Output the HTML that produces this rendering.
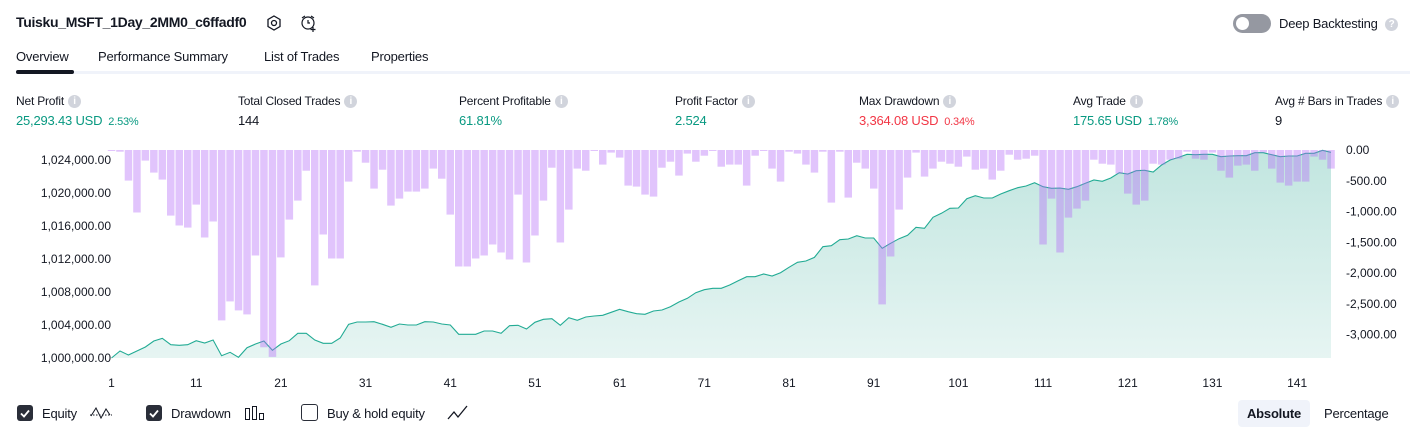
<!DOCTYPE html>
<html><head><meta charset="utf-8">
<style>
body{margin:0;width:1424px;height:438px;background:#fff;font-family:"Liberation Sans",sans-serif;color:#131722;overflow:hidden;position:relative}
.a{position:absolute;white-space:nowrap}
.t{font-size:13px;letter-spacing:-0.2px}
.lab{font-size:12px;letter-spacing:-0.2px;color:#131722}
.info{display:inline-block;width:13px;height:13px;border-radius:50%;background:#d1d4dc;color:#fff;font-size:10px;font-weight:bold;text-align:center;line-height:13px;vertical-align:1px;margin-left:4px}
.g{color:#089981}.r{color:#f23645}
.sm{font-size:11px;margin-left:6px}
.cb{position:absolute;width:16px;height:16px;border-radius:3px;background:#2a2e39;top:405px}
</style></head><body>
<div class="a" style="left:16px;top:14px;font-size:14px;font-weight:bold;letter-spacing:-0.3px">Tuisku_MSFT_1Day_2MM0_c6ffadf0</div>
<svg class="a" style="left:265px;top:14px" width="18" height="18"><polygon points="9,2 15,5.5 15,12.5 9,16 3,12.5 3,5.5" fill="none" stroke="#131722" stroke-width="1.3"/><circle cx="9" cy="9" r="2.5" fill="none" stroke="#131722" stroke-width="1.3"/></svg>
<svg class="a" style="left:299px;top:13px" width="20" height="20"><circle cx="9" cy="10" r="6" fill="none" stroke="#131722" stroke-width="1.2"/><path d="M9 7v3h2M3 5l3-2M15 5l-3-2M14 14v5M11.5 16.5h5" stroke="#131722" stroke-width="1.2" fill="none"/></svg>
<div class="a" style="left:1233px;top:14px;width:38px;height:19px;border-radius:10px;background:#9598a1"><div style="position:absolute;left:3px;top:3px;width:13px;height:13px;border-radius:50%;background:#fff"></div></div>
<div class="a t" style="left:1279px;top:16px">Deep Backtesting <span class="info" style="border-radius:50%">?</span></div>

<div class="a t" style="left:16px;top:49px">Overview</div>
<div class="a t" style="left:98px;top:49px">Performance Summary</div>
<div class="a t" style="left:264px;top:49px">List of Trades</div>
<div class="a t" style="left:371px;top:49px">Properties</div>
<div class="a" style="left:16px;top:71px;width:1394px;height:3px;background:#f0f3fa"></div>
<div class="a" style="left:16px;top:70px;width:58px;height:4px;border-radius:2px;background:#131722"></div>

<div class="a lab" style="left:16px;top:94px">Net Profit<span class="info">i</span></div>
<div class="a t g" style="left:16px;top:113px">25,293.43 USD<span class="sm">2.53%</span></div>
<div class="a lab" style="left:238px;top:94px">Total Closed Trades<span class="info">i</span></div>
<div class="a t" style="left:238px;top:113px">144</div>
<div class="a lab" style="left:459px;top:94px">Percent Profitable<span class="info">i</span></div>
<div class="a t g" style="left:459px;top:113px">61.81%</div>
<div class="a lab" style="left:675px;top:94px">Profit Factor<span class="info">i</span></div>
<div class="a t g" style="left:675px;top:113px">2.524</div>
<div class="a lab" style="left:859px;top:94px">Max Drawdown<span class="info">i</span></div>
<div class="a t r" style="left:859px;top:113px">3,364.08 USD<span class="sm">0.34%</span></div>
<div class="a lab" style="left:1073px;top:94px">Avg Trade<span class="info">i</span></div>
<div class="a t g" style="left:1073px;top:113px">175.65 USD<span class="sm">1.78%</span></div>
<div class="a lab" style="left:1275px;top:94px">Avg # Bars in Trades<span class="info">i</span></div>
<div class="a t" style="left:1275px;top:113px">9</div>

<svg class="a" id="chart" style="left:0;top:0" width="1424" height="395">
<defs><linearGradient id="ag" x1="0" y1="0" x2="0" y2="1"><stop offset="0" stop-color="#089981" stop-opacity="0.25"/><stop offset="1" stop-color="#089981" stop-opacity="0.1"/></linearGradient></defs>
</svg>

<div class="cb" style="left:17px"><svg width="16" height="16"><path d="M4 8.5l3 3 5-6" stroke="#fff" stroke-width="1.8" fill="none"/></svg></div>
<div class="a t" style="left:42px;top:406px">Equity</div>
<svg class="a" style="left:88px;top:404px" width="26" height="18"><path d="M2 11h22" stroke="#131722" stroke-dasharray="1.5 1.5"/><path d="M3 12l5-8 5 10 5-9 4 6" stroke="#131722" fill="none"/></svg>
<div class="cb" style="left:146px"><svg width="16" height="16"><path d="M4 8.5l3 3 5-6" stroke="#fff" stroke-width="1.8" fill="none"/></svg></div>
<div class="a t" style="left:171px;top:406px">Drawdown</div>
<svg class="a" style="left:244px;top:405px" width="22" height="16"><rect x="1.5" y="3.5" width="4" height="11" fill="none" stroke="#131722"/><rect x="8.5" y="1.5" width="4" height="13" fill="none" stroke="#131722"/><rect x="15.5" y="8.5" width="4" height="6" fill="none" stroke="#131722"/></svg>
<div class="cb" style="left:301px;background:#fff;border:1.3px solid #2a2e39;width:15px;height:15px;top:404px"></div>
<div class="a t" style="left:327px;top:406px">Buy &amp; hold equity</div>
<svg class="a" style="left:446px;top:404px" width="24" height="18"><path d="M2 15l6-7 4 5 9-11" stroke="#131722" fill="none" stroke-width="1.3"/></svg>
<div class="a t" style="left:1238px;top:400px;width:72px;height:27px;line-height:27px;text-align:center;background:#f0f3fa;border-radius:4px;font-weight:bold">Absolute</div>
<div class="a t" style="left:1324px;top:400px;height:27px;line-height:27px">Percentage</div>

<script>
const equityK=[0,0.85,0.36,0.85,1.33,2.06,2.39,1.61,1.54,1.61,2.10,1.82,2.18,0.28,0.69,0.08,1.25,1.70,2.06,0.93,1.70,2.10,2.99,2.99,2.18,1.78,1.78,2.42,4.08,4.36,4.36,4.40,4.08,3.72,4.12,4.00,4.00,4.40,4.36,4.12,4.00,2.87,2.87,2.87,3.27,3.27,2.99,3.91,3.96,
3.51,4.33,4.69,4.76,3.96,4.88,4.57,4.97,5.09,5.18,5.54,5.90,5.61,5.37,5.30,5.70,5.82,6.22,6.79,7.24,7.91,8.28,8.45,8.45,8.85,9.37,9.85,9.85,10.18,9.94,10.34,10.99,11.60,11.76,12.20,13.49,13.61,14.34,14.42,14.82,14.54,14.54,13.30,13.90,14.46,14.87,15.84,15.72,
17.05,17.54,18.14,18.18,19.31,19.67,19.39,19.39,19.88,20.28,20.64,20.85,21.25,20.76,20.57,20.60,20.45,20.76,21.17,21.57,21.42,21.82,22.46,22.30,22.70,22.75,22.54,23.39,24.00,24.32,24.69,24.64,24.69,24.69,24.40,24.48,24.52,24.52,24.88,24.88,24.64,24.40,24.48,24.48,24.81,24.81,25.17,24.93];
const drawdown=[10,27,498,1017,173,368,482,1066,1228,1261,888,1423,1163,2770,2462,2608,2673,1715,3208,3364,1747,1131,823,336,2202,1374,1764,1764,514,27,206,628,320,904,790,677,677,628,303,466,1050,1894,1894,1764,1715,1537,1667,1780,725,
1829,1391,823,287,1504,969,303,336,11,238,43,124,579,595,725,757,287,190,417,59,190,92,11,271,238,238,579,92,11,303,514,27,59,238,368,27,855,27,774,206,303,628,2510,1731,969,449,43,433,
303,190,222,271,108,320,303,482,336,76,157,141,92,1537,790,1667,1099,953,823,157,222,238,385,709,888,823,222,238,157,141,27,141,157,43,336,449,254,238,336,43,303,530,579,514,514,108,157,303];
const leftTicks=[1000000,1004000,1008000,1012000,1016000,1020000,1024000];
const rightTicks=[0,-500,-1000,-1500,-2000,-2500,-3000];
const xTicks=[1,11,21,31,41,51,61,71,81,91,101,111,121,131,141];

const svg=document.getElementById('chart');
const NS='http://www.w3.org/2000/svg';
const N=equityK.length;
const x0=111.5,x1=1331;
const xs=i=>x0+(i)*(x1-x0)/(N-1);
const yEq=v=>358-(v-1000000)*198/24000;
const yDD=v=>150+v*184.5/3000;
function el(t,a){const e=document.createElementNS(NS,t);for(const k in a)e.setAttribute(k,a[k]);svg.appendChild(e);return e;}
// area
let pts=equityK.map((v,i)=>xs(i).toFixed(1)+','+yEq(1000000+v*1000).toFixed(1));
const area=el('path',{d:'M'+xs(0)+','+358+' L'+pts.join(' L')+' L'+xs(N-1)+',358 Z',fill:'url(#ag)'});


const line=el('polyline',{points:pts.join(' '),fill:'none',stroke:'#22ab94','stroke-width':1.1});


const bw=(x1-x0)/(N-1);
drawdown.forEach((v,i)=>{
  const r=el('rect',{x:(xs(i)-bw/2+0.5).toFixed(1),y:150,width:(bw-1).toFixed(1),height:Math.max(1,yDD(v)-150).toFixed(1),fill:'rgb(180,107,247)','fill-opacity':0.4});
  
  
});
leftTicks.forEach(v=>{
  const t=el('text',{x:111,y:yEq(v)+4,'text-anchor':'end','font-size':12,fill:'#131722','font-family':'Liberation Sans, sans-serif'});
  t.textContent=v.toLocaleString('en-US',{minimumFractionDigits:2});
  
  
});
rightTicks.forEach(v=>{
  const t=el('text',{x:1346,y:yDD(-v)+4,'font-size':12,fill:'#131722','font-family':'Liberation Sans, sans-serif'});
  t.textContent=v.toLocaleString('en-US',{minimumFractionDigits:2});
  
  
});
xTicks.forEach(v=>{
  const t=el('text',{x:xs(v-1),y:387,'text-anchor':'middle','font-size':12,fill:'#131722','font-family':'Liberation Sans, sans-serif'});
  t.textContent=v;
  
  
});
</script>
</body></html>
